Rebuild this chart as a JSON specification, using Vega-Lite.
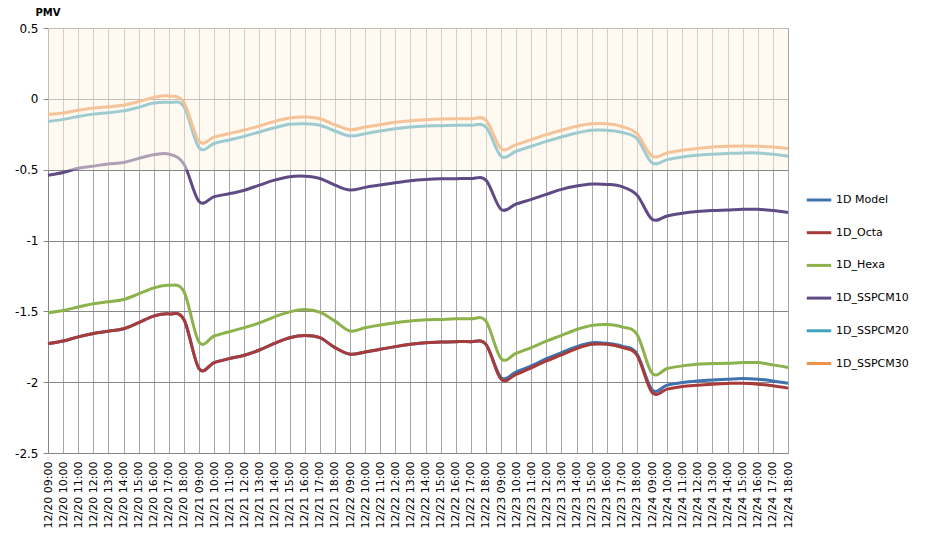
{
"$schema":"https://vega.github.io/schema/vega-lite/v6.json",
"autosize":"none",
"padding":{"left":48,"top":28,"right":145,"bottom":102},
"width":740,"height":425,
"background":"white",
"config":{"view":{"stroke":null},"font":"DejaVu Sans"},
"layer":[
{"data":{"values":[
{"t":"12/20 09:00","s":"1D Model","v":-1.728},{"t":"12/20 10:00","s":"1D Model","v":-1.71},{"t":"12/20 11:00","s":"1D Model","v":-1.68},{"t":"12/20 12:00","s":"1D Model","v":-1.656},{"t":"12/20 13:00","s":"1D Model","v":-1.64},{"t":"12/20 14:00","s":"1D Model","v":-1.623},{"t":"12/20 15:00","s":"1D Model","v":-1.58},{"t":"12/20 16:00","s":"1D Model","v":-1.534},{"t":"12/20 17:00","s":"1D Model","v":-1.518},{"t":"12/20 18:00","s":"1D Model","v":-1.557},
{"t":"12/21 09:00","s":"1D Model","v":-1.904},{"t":"12/21 10:00","s":"1D Model","v":-1.862},{"t":"12/21 11:00","s":"1D Model","v":-1.834},{"t":"12/21 12:00","s":"1D Model","v":-1.81},{"t":"12/21 13:00","s":"1D Model","v":-1.773},{"t":"12/21 14:00","s":"1D Model","v":-1.726},{"t":"12/21 15:00","s":"1D Model","v":-1.686},{"t":"12/21 16:00","s":"1D Model","v":-1.67},{"t":"12/21 17:00","s":"1D Model","v":-1.686},{"t":"12/21 18:00","s":"1D Model","v":-1.756},
{"t":"12/22 09:00","s":"1D Model","v":-1.803},{"t":"12/22 10:00","s":"1D Model","v":-1.787},{"t":"12/22 11:00","s":"1D Model","v":-1.768},{"t":"12/22 12:00","s":"1D Model","v":-1.749},{"t":"12/22 13:00","s":"1D Model","v":-1.733},{"t":"12/22 14:00","s":"1D Model","v":-1.721},{"t":"12/22 15:00","s":"1D Model","v":-1.717},{"t":"12/22 16:00","s":"1D Model","v":-1.714},{"t":"12/22 17:00","s":"1D Model","v":-1.714},{"t":"12/22 18:00","s":"1D Model","v":-1.733},
{"t":"12/23 09:00","s":"1D Model","v":-1.967},{"t":"12/23 10:00","s":"1D Model","v":-1.927},{"t":"12/23 11:00","s":"1D Model","v":-1.885},{"t":"12/23 12:00","s":"1D Model","v":-1.834},{"t":"12/23 13:00","s":"1D Model","v":-1.792},{"t":"12/23 14:00","s":"1D Model","v":-1.749},{"t":"12/23 15:00","s":"1D Model","v":-1.721},{"t":"12/23 16:00","s":"1D Model","v":-1.726},{"t":"12/23 17:00","s":"1D Model","v":-1.745},{"t":"12/23 18:00","s":"1D Model","v":-1.8},
{"t":"12/24 09:00","s":"1D Model","v":-2.054},{"t":"12/24 10:00","s":"1D Model","v":-2.021},{"t":"12/24 11:00","s":"1D Model","v":-2.002},{"t":"12/24 12:00","s":"1D Model","v":-1.991},{"t":"12/24 13:00","s":"1D Model","v":-1.984},{"t":"12/24 14:00","s":"1D Model","v":-1.979},{"t":"12/24 15:00","s":"1D Model","v":-1.974},{"t":"12/24 16:00","s":"1D Model","v":-1.979},{"t":"12/24 17:00","s":"1D Model","v":-1.991},{"t":"12/24 18:00","s":"1D Model","v":-2.007},

{"t":"12/20 09:00","s":"1D_Octa","v":-1.728},{"t":"12/20 10:00","s":"1D_Octa","v":-1.71},{"t":"12/20 11:00","s":"1D_Octa","v":-1.68},{"t":"12/20 12:00","s":"1D_Octa","v":-1.656},{"t":"12/20 13:00","s":"1D_Octa","v":-1.64},{"t":"12/20 14:00","s":"1D_Octa","v":-1.623},{"t":"12/20 15:00","s":"1D_Octa","v":-1.58},{"t":"12/20 16:00","s":"1D_Octa","v":-1.534},{"t":"12/20 17:00","s":"1D_Octa","v":-1.518},{"t":"12/20 18:00","s":"1D_Octa","v":-1.557},
{"t":"12/21 09:00","s":"1D_Octa","v":-1.904},{"t":"12/21 10:00","s":"1D_Octa","v":-1.862},{"t":"12/21 11:00","s":"1D_Octa","v":-1.834},{"t":"12/21 12:00","s":"1D_Octa","v":-1.81},{"t":"12/21 13:00","s":"1D_Octa","v":-1.773},{"t":"12/21 14:00","s":"1D_Octa","v":-1.726},{"t":"12/21 15:00","s":"1D_Octa","v":-1.686},{"t":"12/21 16:00","s":"1D_Octa","v":-1.67},{"t":"12/21 17:00","s":"1D_Octa","v":-1.686},{"t":"12/21 18:00","s":"1D_Octa","v":-1.756},
{"t":"12/22 09:00","s":"1D_Octa","v":-1.803},{"t":"12/22 10:00","s":"1D_Octa","v":-1.787},{"t":"12/22 11:00","s":"1D_Octa","v":-1.768},{"t":"12/22 12:00","s":"1D_Octa","v":-1.749},{"t":"12/22 13:00","s":"1D_Octa","v":-1.733},{"t":"12/22 14:00","s":"1D_Octa","v":-1.721},{"t":"12/22 15:00","s":"1D_Octa","v":-1.717},{"t":"12/22 16:00","s":"1D_Octa","v":-1.714},{"t":"12/22 17:00","s":"1D_Octa","v":-1.714},{"t":"12/22 18:00","s":"1D_Octa","v":-1.733},
{"t":"12/23 09:00","s":"1D_Octa","v":-1.979},{"t":"12/23 10:00","s":"1D_Octa","v":-1.944},{"t":"12/23 11:00","s":"1D_Octa","v":-1.899},{"t":"12/23 12:00","s":"1D_Octa","v":-1.85},{"t":"12/23 13:00","s":"1D_Octa","v":-1.808},{"t":"12/23 14:00","s":"1D_Octa","v":-1.763},{"t":"12/23 15:00","s":"1D_Octa","v":-1.733},{"t":"12/23 16:00","s":"1D_Octa","v":-1.733},{"t":"12/23 17:00","s":"1D_Octa","v":-1.755},{"t":"12/23 18:00","s":"1D_Octa","v":-1.81},
{"t":"12/24 09:00","s":"1D_Octa","v":-2.073},{"t":"12/24 10:00","s":"1D_Octa","v":-2.049},{"t":"12/24 11:00","s":"1D_Octa","v":-2.03},{"t":"12/24 12:00","s":"1D_Octa","v":-2.021},{"t":"12/24 13:00","s":"1D_Octa","v":-2.014},{"t":"12/24 14:00","s":"1D_Octa","v":-2.009},{"t":"12/24 15:00","s":"1D_Octa","v":-2.007},{"t":"12/24 16:00","s":"1D_Octa","v":-2.014},{"t":"12/24 17:00","s":"1D_Octa","v":-2.026},{"t":"12/24 18:00","s":"1D_Octa","v":-2.042},

{"t":"12/20 09:00","s":"1D_Hexa","v":-1.51},{"t":"12/20 10:00","s":"1D_Hexa","v":-1.494},{"t":"12/20 11:00","s":"1D_Hexa","v":-1.47},{"t":"12/20 12:00","s":"1D_Hexa","v":-1.447},{"t":"12/20 13:00","s":"1D_Hexa","v":-1.433},{"t":"12/20 14:00","s":"1D_Hexa","v":-1.417},{"t":"12/20 15:00","s":"1D_Hexa","v":-1.377},{"t":"12/20 16:00","s":"1D_Hexa","v":-1.335},{"t":"12/20 17:00","s":"1D_Hexa","v":-1.316},{"t":"12/20 18:00","s":"1D_Hexa","v":-1.36},
{"t":"12/21 09:00","s":"1D_Hexa","v":-1.717},{"t":"12/21 10:00","s":"1D_Hexa","v":-1.674},{"t":"12/21 11:00","s":"1D_Hexa","v":-1.644},{"t":"12/21 12:00","s":"1D_Hexa","v":-1.615},{"t":"12/21 13:00","s":"1D_Hexa","v":-1.581},{"t":"12/21 14:00","s":"1D_Hexa","v":-1.539},{"t":"12/21 15:00","s":"1D_Hexa","v":-1.504},{"t":"12/21 16:00","s":"1D_Hexa","v":-1.487},{"t":"12/21 17:00","s":"1D_Hexa","v":-1.506},{"t":"12/21 18:00","s":"1D_Hexa","v":-1.569},
{"t":"12/22 09:00","s":"1D_Hexa","v":-1.639},{"t":"12/22 10:00","s":"1D_Hexa","v":-1.616},{"t":"12/22 11:00","s":"1D_Hexa","v":-1.597},{"t":"12/22 12:00","s":"1D_Hexa","v":-1.581},{"t":"12/22 13:00","s":"1D_Hexa","v":-1.569},{"t":"12/22 14:00","s":"1D_Hexa","v":-1.56},{"t":"12/22 15:00","s":"1D_Hexa","v":-1.557},{"t":"12/22 16:00","s":"1D_Hexa","v":-1.553},{"t":"12/22 17:00","s":"1D_Hexa","v":-1.553},{"t":"12/22 18:00","s":"1D_Hexa","v":-1.569},
{"t":"12/23 09:00","s":"1D_Hexa","v":-1.834},{"t":"12/23 10:00","s":"1D_Hexa","v":-1.796},{"t":"12/23 11:00","s":"1D_Hexa","v":-1.756},{"t":"12/23 12:00","s":"1D_Hexa","v":-1.71},{"t":"12/23 13:00","s":"1D_Hexa","v":-1.67},{"t":"12/23 14:00","s":"1D_Hexa","v":-1.628},{"t":"12/23 15:00","s":"1D_Hexa","v":-1.6},{"t":"12/23 16:00","s":"1D_Hexa","v":-1.593},{"t":"12/23 17:00","s":"1D_Hexa","v":-1.61},{"t":"12/23 18:00","s":"1D_Hexa","v":-1.663},
{"t":"12/24 09:00","s":"1D_Hexa","v":-1.937},{"t":"12/24 10:00","s":"1D_Hexa","v":-1.904},{"t":"12/24 11:00","s":"1D_Hexa","v":-1.885},{"t":"12/24 12:00","s":"1D_Hexa","v":-1.874},{"t":"12/24 13:00","s":"1D_Hexa","v":-1.869},{"t":"12/24 14:00","s":"1D_Hexa","v":-1.867},{"t":"12/24 15:00","s":"1D_Hexa","v":-1.862},{"t":"12/24 16:00","s":"1D_Hexa","v":-1.862},{"t":"12/24 17:00","s":"1D_Hexa","v":-1.878},{"t":"12/24 18:00","s":"1D_Hexa","v":-1.897},

{"t":"12/20 09:00","s":"1D_SSPCM10","v":-0.54},{"t":"12/20 10:00","s":"1D_SSPCM10","v":-0.52},{"t":"12/20 11:00","s":"1D_SSPCM10","v":-0.49},{"t":"12/20 12:00","s":"1D_SSPCM10","v":-0.475},{"t":"12/20 13:00","s":"1D_SSPCM10","v":-0.46},{"t":"12/20 14:00","s":"1D_SSPCM10","v":-0.45},{"t":"12/20 15:00","s":"1D_SSPCM10","v":-0.42},{"t":"12/20 16:00","s":"1D_SSPCM10","v":-0.395},{"t":"12/20 17:00","s":"1D_SSPCM10","v":-0.39},{"t":"12/20 18:00","s":"1D_SSPCM10","v":-0.46},
{"t":"12/21 09:00","s":"1D_SSPCM10","v":-0.725},{"t":"12/21 10:00","s":"1D_SSPCM10","v":-0.69},{"t":"12/21 11:00","s":"1D_SSPCM10","v":-0.67},{"t":"12/21 12:00","s":"1D_SSPCM10","v":-0.645},{"t":"12/21 13:00","s":"1D_SSPCM10","v":-0.609},{"t":"12/21 14:00","s":"1D_SSPCM10","v":-0.574},{"t":"12/21 15:00","s":"1D_SSPCM10","v":-0.55},{"t":"12/21 16:00","s":"1D_SSPCM10","v":-0.546},{"t":"12/21 17:00","s":"1D_SSPCM10","v":-0.562},{"t":"12/21 18:00","s":"1D_SSPCM10","v":-0.609},
{"t":"12/22 09:00","s":"1D_SSPCM10","v":-0.644},{"t":"12/22 10:00","s":"1D_SSPCM10","v":-0.625},{"t":"12/22 11:00","s":"1D_SSPCM10","v":-0.609},{"t":"12/22 12:00","s":"1D_SSPCM10","v":-0.593},{"t":"12/22 13:00","s":"1D_SSPCM10","v":-0.578},{"t":"12/22 14:00","s":"1D_SSPCM10","v":-0.569},{"t":"12/22 15:00","s":"1D_SSPCM10","v":-0.564},{"t":"12/22 16:00","s":"1D_SSPCM10","v":-0.564},{"t":"12/22 17:00","s":"1D_SSPCM10","v":-0.562},{"t":"12/22 18:00","s":"1D_SSPCM10","v":-0.574},
{"t":"12/23 09:00","s":"1D_SSPCM10","v":-0.78},{"t":"12/23 10:00","s":"1D_SSPCM10","v":-0.742},{"t":"12/23 11:00","s":"1D_SSPCM10","v":-0.71},{"t":"12/23 12:00","s":"1D_SSPCM10","v":-0.674},{"t":"12/23 13:00","s":"1D_SSPCM10","v":-0.639},{"t":"12/23 14:00","s":"1D_SSPCM10","v":-0.616},{"t":"12/23 15:00","s":"1D_SSPCM10","v":-0.602},{"t":"12/23 16:00","s":"1D_SSPCM10","v":-0.604},{"t":"12/23 17:00","s":"1D_SSPCM10","v":-0.62},{"t":"12/23 18:00","s":"1D_SSPCM10","v":-0.679},
{"t":"12/24 09:00","s":"1D_SSPCM10","v":-0.85},{"t":"12/24 10:00","s":"1D_SSPCM10","v":-0.827},{"t":"12/24 11:00","s":"1D_SSPCM10","v":-0.808},{"t":"12/24 12:00","s":"1D_SSPCM10","v":-0.796},{"t":"12/24 13:00","s":"1D_SSPCM10","v":-0.789},{"t":"12/24 14:00","s":"1D_SSPCM10","v":-0.785},{"t":"12/24 15:00","s":"1D_SSPCM10","v":-0.78},{"t":"12/24 16:00","s":"1D_SSPCM10","v":-0.78},{"t":"12/24 17:00","s":"1D_SSPCM10","v":-0.789},{"t":"12/24 18:00","s":"1D_SSPCM10","v":-0.803},

{"t":"12/20 09:00","s":"1D_SSPCM20","v":-0.16},{"t":"12/20 10:00","s":"1D_SSPCM20","v":-0.145},{"t":"12/20 11:00","s":"1D_SSPCM20","v":-0.125},{"t":"12/20 12:00","s":"1D_SSPCM20","v":-0.108},{"t":"12/20 13:00","s":"1D_SSPCM20","v":-0.098},{"t":"12/20 14:00","s":"1D_SSPCM20","v":-0.085},{"t":"12/20 15:00","s":"1D_SSPCM20","v":-0.06},{"t":"12/20 16:00","s":"1D_SSPCM20","v":-0.03},{"t":"12/20 17:00","s":"1D_SSPCM20","v":-0.025},{"t":"12/20 18:00","s":"1D_SSPCM20","v":-0.055},
{"t":"12/21 09:00","s":"1D_SSPCM20","v":-0.345},{"t":"12/21 10:00","s":"1D_SSPCM20","v":-0.315},{"t":"12/21 11:00","s":"1D_SSPCM20","v":-0.29},{"t":"12/21 12:00","s":"1D_SSPCM20","v":-0.265},{"t":"12/21 13:00","s":"1D_SSPCM20","v":-0.234},{"t":"12/21 14:00","s":"1D_SSPCM20","v":-0.204},{"t":"12/21 15:00","s":"1D_SSPCM20","v":-0.18},{"t":"12/21 16:00","s":"1D_SSPCM20","v":-0.176},{"t":"12/21 17:00","s":"1D_SSPCM20","v":-0.187},{"t":"12/21 18:00","s":"1D_SSPCM20","v":-0.227},
{"t":"12/22 09:00","s":"1D_SSPCM20","v":-0.262},{"t":"12/22 10:00","s":"1D_SSPCM20","v":-0.246},{"t":"12/22 11:00","s":"1D_SSPCM20","v":-0.227},{"t":"12/22 12:00","s":"1D_SSPCM20","v":-0.211},{"t":"12/22 13:00","s":"1D_SSPCM20","v":-0.199},{"t":"12/22 14:00","s":"1D_SSPCM20","v":-0.192},{"t":"12/22 15:00","s":"1D_SSPCM20","v":-0.19},{"t":"12/22 16:00","s":"1D_SSPCM20","v":-0.187},{"t":"12/22 17:00","s":"1D_SSPCM20","v":-0.187},{"t":"12/22 18:00","s":"1D_SSPCM20","v":-0.199},
{"t":"12/23 09:00","s":"1D_SSPCM20","v":-0.405},{"t":"12/23 10:00","s":"1D_SSPCM20","v":-0.37},{"t":"12/23 11:00","s":"1D_SSPCM20","v":-0.335},{"t":"12/23 12:00","s":"1D_SSPCM20","v":-0.3},{"t":"12/23 13:00","s":"1D_SSPCM20","v":-0.269},{"t":"12/23 14:00","s":"1D_SSPCM20","v":-0.241},{"t":"12/23 15:00","s":"1D_SSPCM20","v":-0.222},{"t":"12/23 16:00","s":"1D_SSPCM20","v":-0.222},{"t":"12/23 17:00","s":"1D_SSPCM20","v":-0.237},{"t":"12/23 18:00","s":"1D_SSPCM20","v":-0.281},
{"t":"12/24 09:00","s":"1D_SSPCM20","v":-0.452},{"t":"12/24 10:00","s":"1D_SSPCM20","v":-0.429},{"t":"12/24 11:00","s":"1D_SSPCM20","v":-0.41},{"t":"12/24 12:00","s":"1D_SSPCM20","v":-0.398},{"t":"12/24 13:00","s":"1D_SSPCM20","v":-0.391},{"t":"12/24 14:00","s":"1D_SSPCM20","v":-0.386},{"t":"12/24 15:00","s":"1D_SSPCM20","v":-0.382},{"t":"12/24 16:00","s":"1D_SSPCM20","v":-0.382},{"t":"12/24 17:00","s":"1D_SSPCM20","v":-0.391},{"t":"12/24 18:00","s":"1D_SSPCM20","v":-0.405},

{"t":"12/20 09:00","s":"1D_SSPCM30","v":-0.11},{"t":"12/20 10:00","s":"1D_SSPCM30","v":-0.1},{"t":"12/20 11:00","s":"1D_SSPCM30","v":-0.08},{"t":"12/20 12:00","s":"1D_SSPCM30","v":-0.065},{"t":"12/20 13:00","s":"1D_SSPCM30","v":-0.056},{"t":"12/20 14:00","s":"1D_SSPCM30","v":-0.045},{"t":"12/20 15:00","s":"1D_SSPCM30","v":-0.02},{"t":"12/20 16:00","s":"1D_SSPCM30","v":0.01},{"t":"12/20 17:00","s":"1D_SSPCM30","v":0.02},{"t":"12/20 18:00","s":"1D_SSPCM30","v":-0.025},
{"t":"12/21 09:00","s":"1D_SSPCM30","v":-0.3},{"t":"12/21 10:00","s":"1D_SSPCM30","v":-0.27},{"t":"12/21 11:00","s":"1D_SSPCM30","v":-0.245},{"t":"12/21 12:00","s":"1D_SSPCM30","v":-0.22},{"t":"12/21 13:00","s":"1D_SSPCM30","v":-0.192},{"t":"12/21 14:00","s":"1D_SSPCM30","v":-0.159},{"t":"12/21 15:00","s":"1D_SSPCM30","v":-0.136},{"t":"12/21 16:00","s":"1D_SSPCM30","v":-0.129},{"t":"12/21 17:00","s":"1D_SSPCM30","v":-0.141},{"t":"12/21 18:00","s":"1D_SSPCM30","v":-0.183},
{"t":"12/22 09:00","s":"1D_SSPCM30","v":-0.218},{"t":"12/22 10:00","s":"1D_SSPCM30","v":-0.199},{"t":"12/22 11:00","s":"1D_SSPCM30","v":-0.183},{"t":"12/22 12:00","s":"1D_SSPCM30","v":-0.166},{"t":"12/22 13:00","s":"1D_SSPCM30","v":-0.155},{"t":"12/22 14:00","s":"1D_SSPCM30","v":-0.148},{"t":"12/22 15:00","s":"1D_SSPCM30","v":-0.143},{"t":"12/22 16:00","s":"1D_SSPCM30","v":-0.141},{"t":"12/22 17:00","s":"1D_SSPCM30","v":-0.141},{"t":"12/22 18:00","s":"1D_SSPCM30","v":-0.15},
{"t":"12/23 09:00","s":"1D_SSPCM30","v":-0.351},{"t":"12/23 10:00","s":"1D_SSPCM30","v":-0.323},{"t":"12/23 11:00","s":"1D_SSPCM30","v":-0.288},{"t":"12/23 12:00","s":"1D_SSPCM30","v":-0.253},{"t":"12/23 13:00","s":"1D_SSPCM30","v":-0.222},{"t":"12/23 14:00","s":"1D_SSPCM30","v":-0.194},{"t":"12/23 15:00","s":"1D_SSPCM30","v":-0.176},{"t":"12/23 16:00","s":"1D_SSPCM30","v":-0.176},{"t":"12/23 17:00","s":"1D_SSPCM30","v":-0.195},{"t":"12/23 18:00","s":"1D_SSPCM30","v":-0.246},
{"t":"12/24 09:00","s":"1D_SSPCM30","v":-0.405},{"t":"12/24 10:00","s":"1D_SSPCM30","v":-0.382},{"t":"12/24 11:00","s":"1D_SSPCM30","v":-0.363},{"t":"12/24 12:00","s":"1D_SSPCM30","v":-0.351},{"t":"12/24 13:00","s":"1D_SSPCM30","v":-0.34},{"t":"12/24 14:00","s":"1D_SSPCM30","v":-0.335},{"t":"12/24 15:00","s":"1D_SSPCM30","v":-0.333},{"t":"12/24 16:00","s":"1D_SSPCM30","v":-0.335},{"t":"12/24 17:00","s":"1D_SSPCM30","v":-0.34},{"t":"12/24 18:00","s":"1D_SSPCM30","v":-0.351}
]},
"mark":{"type":"line","strokeWidth":3,"interpolate":"cardinal","tension":0},
"encoding":{
"x":{"field":"t","type":"ordinal","sort":null,"scale":{"type":"point","padding":0},
"axis":{"title":null,"labelAngle":-90,"labelFontSize":11,"labelColor":"#000","labelPadding":8,"ticks":false,"grid":true,"gridColor":"#A6A6A6","gridWidth":1,"domainColor":"#868686","labelFont":"DejaVu Sans"}},
"y":{"field":"v","type":"quantitative","title":"PMV","scale":{"domain":[-2.5,0.5],"nice":false,"zero":false},
"axis":{"title":"PMV","titleAngle":0,"titleAlign":"left","titleBaseline":"middle","titleX":-13,"titleY":-16,"titleFontSize":10,"titleFontWeight":"bold","titleFont":"DejaVu Sans","titleColor":"#000",
"values":[0.5,0,-0.5,-1,-1.5,-2,-2.5],"labelExpr":"toString(datum.value)","labelFontSize":12,"labelColor":"#000","labelFont":"DejaVu Sans","tickSize":5,"tickColor":"#868686","labelPadding":5,"grid":true,"gridColor":"#868686","domainColor":"#868686"}},
"color":{"field":"s","type":"nominal","sort":null,
"scale":{"domain":["1D Model","1D_Octa","1D_Hexa","1D_SSPCM10","1D_SSPCM20","1D_SSPCM30"],"range":["#3F72AF","#A83A3A","#8CB24C","#5F4A85","#3FA3BC","#EE914B"]},
"legend":{"title":null,"orient":"none","legendX":757,"legendY":158,"symbolType":"stroke","symbolStrokeWidth":3,"symbolSize":600,"rowPadding":12.7,"labelFontSize":11,"labelFont":"DejaVu Sans","labelColor":"#000","labelOffset":3}}
}},
{"data":{"values":[{"lo":-0.5,"hi":0.5}]},
"mark":{"type":"rect","fill":"#FDF3E3","opacity":0.5},
"encoding":{"y":{"field":"hi","type":"quantitative","title":"PMV"},"y2":{"field":"lo"}}}
]
}
